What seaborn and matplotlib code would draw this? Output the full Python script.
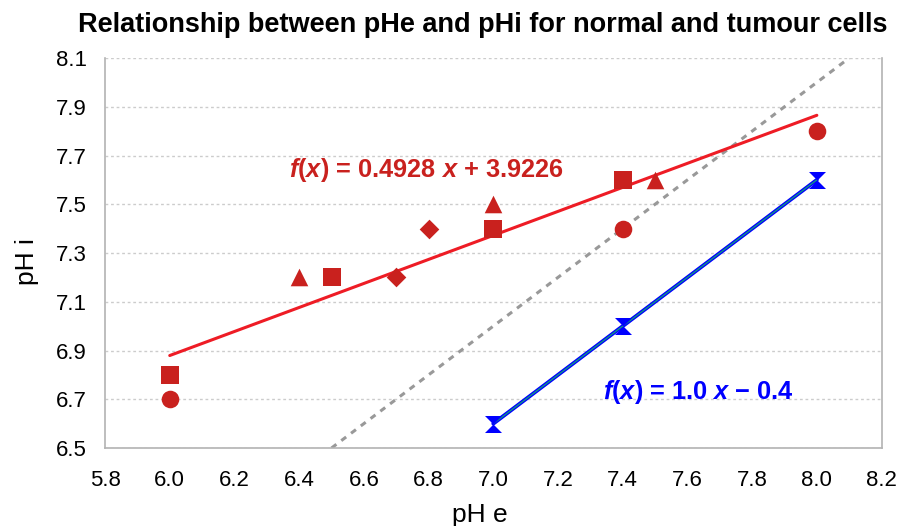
import numpy as np
import pandas as pd
import matplotlib
matplotlib.use("Agg")
import matplotlib.pyplot as plt
import seaborn as sns
from matplotlib.path import Path

# Data
circle_x = [6.0, 7.4, 8.0]
circle_y = [6.7, 7.4, 7.8]
square_x = [6.0, 6.5, 7.0, 7.4]
square_y = [6.8, 7.2, 7.4, 7.6]
triangle_x = [6.4, 7.0, 7.5]
triangle_y = [7.2, 7.5, 7.6]
diamond_x = [6.7, 6.8]
diamond_y = [7.2, 7.4]
blue_x = [7.0, 7.4, 8.0]
blue_y = [6.6, 7.0, 7.6]
red_slope, red_intercept = 0.4928, 3.9226
red_fit_x = [6.0, 8.0]
blue_slope, blue_intercept = 1.0, -0.4
blue_fit_x = [7.0, 8.0]
ident_x = [6.5, 8.1]
x_ticks = [5.8, 6.0, 6.2, 6.4, 6.6, 6.8, 7.0, 7.2, 7.4, 7.6, 7.8, 8.0, 8.2]
y_ticks = [6.5, 6.7, 6.9, 7.1, 7.3, 7.5, 7.7, 7.9, 8.1]

sns.set_style("white")
plt.rcParams['font.family'] = ['Liberation Sans', 'DejaVu Sans']
plt.rcParams['text.color'] = 'black'
plt.rcParams['axes.labelcolor'] = 'black'
plt.rcParams['mathtext.fontset'] = 'custom'
plt.rcParams['mathtext.it'] = 'Liberation Sans:italic:bold'
plt.rcParams['mathtext.rm'] = 'Liberation Sans:bold'
plt.rcParams['mathtext.bf'] = 'Liberation Sans:bold'

fig = plt.figure(figsize=(9, 5.26), dpi=100)
ax = fig.add_axes([0.1167, 0.1483, 0.8628, 0.7414])

red = "#c9211e"
redline = "#ee1c25"
blue = "#0000ff"

# grid
ax.set_axisbelow(True)
ax.yaxis.grid(True, color="#cccccc", linestyle=(0, (2, 2)), linewidth=1)

# identity line
sns.lineplot(x=ident_x, y=ident_x, ax=ax, color="#999999",
             linestyle=(0, (2, 2)), linewidth=2.2, zorder=2)

# red fit
rfx = np.array(red_fit_x)
sns.lineplot(x=rfx, y=red_slope * rfx + red_intercept, ax=ax, color=redline,
             linewidth=2.2, zorder=3)

# blue line with trend
sns.lineplot(x=blue_x, y=blue_y, ax=ax, color=blue, linewidth=2.8, zorder=3)
bfx = np.array(blue_fit_x)
sns.lineplot(x=bfx, y=blue_slope * bfx + blue_intercept, ax=ax, color="#11a07a",
             linewidth=0.9, zorder=4)

ms = 160
sns.scatterplot(x=circle_x, y=circle_y, ax=ax, marker="o", s=ms, color=red,
                edgecolor=red, linewidth=0, zorder=5)
sns.scatterplot(x=square_x, y=square_y, ax=ax, marker="s", s=ms, color=red,
                edgecolor=red, linewidth=0, zorder=5)
sns.scatterplot(x=triangle_x, y=triangle_y, ax=ax, marker="^", s=ms, color=red,
                edgecolor=red, linewidth=0, zorder=5)
sns.scatterplot(x=diamond_x, y=diamond_y, ax=ax, marker="D", s=100, color=red,
                edgecolor=red, linewidth=0, zorder=5)

hourglass = Path([(-1, 1), (1, 1), (-1, -1), (1, -1), (-1, 1)],
                 [Path.MOVETO, Path.LINETO, Path.LINETO, Path.LINETO, Path.CLOSEPOLY])
sns.scatterplot(x=blue_x, y=blue_y, ax=ax, marker=hourglass, s=150, color=blue,
                edgecolor=blue, linewidth=0, zorder=6)

ax.text(6.37, 7.64, r"$f(x)$ = 0.4928 $x$ + 3.9226", color=red, fontsize=18.3,
        fontweight="bold", va="center", ha="left")
ax.text(7.34, 6.73, r"$f(x)$ = 1.0 $x$ − 0.4", color=blue, fontsize=18.3,
        fontweight="bold", va="center", ha="left")

ax.set_xlim(5.8, 8.2)
ax.set_ylim(6.5, 8.1)
ax.set_xticks(x_ticks)
ax.set_xticklabels([f"{t:.1f}" for t in x_ticks])
ax.set_yticks(y_ticks)
ax.set_yticklabels([f"{t:.1f}" for t in y_ticks])
ax.tick_params(axis="both", labelsize=16, labelcolor="black", length=7,
               width=1, direction="out", color="#b3b3b3")
ax.tick_params(axis="x", pad=8.5)
ax.tick_params(axis="y", pad=6)

for side in ["left", "bottom", "right"]:
    ax.spines[side].set_color("#b3b3b3")
    ax.spines[side].set_linewidth(1.2)
ax.spines["top"].set_visible(False)

ax.set_xlabel("pH e", fontsize=19, labelpad=9)
ax.set_ylabel("pH i", fontsize=19, labelpad=12)
ax.xaxis.label.set_x(0.483)
ax.yaxis.label.set_y(0.477)
fig.suptitle("Relationship between pHe and pHi for normal and tumour cells",
             fontsize=19.5, fontweight="bold", x=0.536, y=0.978)

fig.savefig("out.png", dpi=100)
